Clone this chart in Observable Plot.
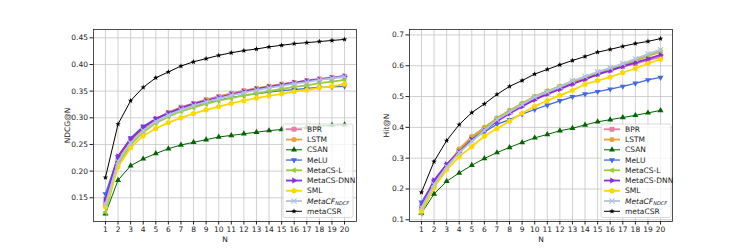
<!DOCTYPE html>
<html><head><meta charset="utf-8">
<script src="https://cdn.jsdelivr.net/npm/d3@7"></script>
<script src="https://cdn.jsdelivr.net/npm/@observablehq/plot@0.6"></script>
<style>
body{margin:0;background:#fff;width:747px;height:249px;overflow:hidden;position:relative;font-family:"DejaVu Sans",sans-serif}
#c1,#c2{position:absolute;top:0}
#c1{left:0}#c2{left:373px}
</style></head><body><div id="c1"></div><div id="c2"></div>
<script>
const N = [1,2,3,4,5,6,7,8,9,10,11,12,13,14,15,16,17,18,19,20];
const methods = ["BPR","LSTM","CSAN","MeLU","MetaCS-L","MetaCS-DNN","SML","MetaCF","metaCSR"];

// NDCG@N
const ndcg_BPR       = [0.140,0.225,0.258,0.281,0.298,0.310,0.320,0.327,0.334,0.340,0.346,0.351,0.355,0.359,0.363,0.366,0.370,0.373,0.376,0.378];
const ndcg_LSTM      = [0.135,0.220,0.255,0.279,0.297,0.309,0.319,0.326,0.333,0.339,0.345,0.350,0.355,0.359,0.363,0.366,0.369,0.372,0.375,0.378];
const ndcg_CSAN      = [0.120,0.183,0.210,0.223,0.233,0.242,0.249,0.254,0.259,0.264,0.267,0.270,0.273,0.276,0.278,0.280,0.282,0.284,0.286,0.287];
const ndcg_MeLU      = [0.157,0.227,0.262,0.284,0.298,0.308,0.316,0.322,0.328,0.333,0.338,0.342,0.345,0.348,0.351,0.353,0.355,0.357,0.358,0.359];
const ndcg_MetaCSL   = [0.123,0.212,0.249,0.273,0.290,0.302,0.312,0.319,0.326,0.332,0.337,0.342,0.346,0.350,0.354,0.358,0.361,0.365,0.368,0.371];
const ndcg_MetaCSDNN = [0.147,0.228,0.260,0.282,0.298,0.309,0.318,0.326,0.332,0.338,0.344,0.349,0.354,0.358,0.362,0.366,0.369,0.372,0.375,0.378];
const ndcg_SML       = [0.133,0.208,0.244,0.266,0.280,0.291,0.300,0.308,0.315,0.321,0.327,0.332,0.337,0.341,0.345,0.349,0.352,0.356,0.359,0.363];
const ndcg_MetaCF    = [0.138,0.218,0.253,0.276,0.293,0.305,0.315,0.323,0.330,0.336,0.342,0.347,0.352,0.356,0.360,0.364,0.367,0.371,0.374,0.377];
const ndcg_metaCSR   = [0.188,0.288,0.332,0.357,0.375,0.386,0.397,0.405,0.411,0.417,0.422,0.426,0.429,0.433,0.436,0.439,0.441,0.443,0.445,0.447];

// Hit@N
const hit_BPR       = [0.140,0.222,0.276,0.327,0.367,0.397,0.427,0.450,0.472,0.494,0.510,0.527,0.543,0.557,0.572,0.585,0.597,0.607,0.618,0.628];
const hit_LSTM      = [0.135,0.220,0.275,0.330,0.370,0.400,0.430,0.455,0.477,0.500,0.518,0.533,0.548,0.560,0.573,0.588,0.602,0.615,0.632,0.645];
const hit_CSAN      = [0.121,0.184,0.225,0.252,0.277,0.299,0.318,0.335,0.351,0.366,0.377,0.389,0.397,0.408,0.418,0.425,0.432,0.439,0.447,0.455];
const hit_MeLU      = [0.157,0.225,0.278,0.322,0.362,0.385,0.410,0.425,0.443,0.458,0.472,0.486,0.499,0.508,0.516,0.524,0.533,0.543,0.554,0.562];
const hit_MetaCSL   = [0.120,0.210,0.270,0.322,0.363,0.395,0.428,0.452,0.477,0.500,0.517,0.533,0.550,0.563,0.577,0.590,0.604,0.618,0.635,0.648];
const hit_MetaCSDNN = [0.145,0.228,0.280,0.320,0.360,0.390,0.420,0.445,0.468,0.490,0.508,0.524,0.541,0.556,0.572,0.584,0.598,0.610,0.622,0.635];
const hit_SML       = [0.130,0.205,0.262,0.305,0.338,0.371,0.396,0.420,0.446,0.468,0.487,0.504,0.520,0.540,0.552,0.563,0.578,0.591,0.607,0.621];
const hit_MetaCF    = [0.140,0.215,0.272,0.318,0.355,0.390,0.425,0.450,0.474,0.498,0.515,0.532,0.551,0.565,0.580,0.593,0.607,0.622,0.638,0.652];
const hit_metaCSR   = [0.189,0.289,0.357,0.409,0.448,0.476,0.507,0.533,0.552,0.573,0.588,0.603,0.617,0.630,0.644,0.653,0.663,0.672,0.679,0.688];

const ndcgTicks = [0.15,0.20,0.25,0.30,0.35,0.40,0.45];
const hitTicks  = [0.1,0.2,0.3,0.4,0.5,0.6,0.7];

const ndcgSeries = [ndcg_BPR,ndcg_LSTM,ndcg_CSAN,ndcg_MeLU,ndcg_MetaCSL,ndcg_MetaCSDNN,ndcg_SML,ndcg_MetaCF,ndcg_metaCSR];
const hitSeries  = [hit_BPR,hit_LSTM,hit_CSAN,hit_MeLU,hit_MetaCSL,hit_MetaCSDNN,hit_SML,hit_MetaCF,hit_metaCSR];

// custom marker shapes
function poly(pts){return {draw(ctx,size){const r=Math.sqrt(size/Math.PI);pts.forEach(([a,b],i)=>i?ctx.lineTo(a*r,b*r):ctx.moveTo(a*r,b*r));ctx.closePath();}};}
const symSquare = poly([[-0.8,-0.8],[0.8,-0.8],[0.8,0.8],[-0.8,0.8]]);
const symCircle = {draw(ctx,size){const r=Math.sqrt(size/Math.PI)*0.85;ctx.moveTo(r,0);ctx.arc(0,0,r,0,2*Math.PI);}};
const symUp    = poly([[0,-1.15],[-1,0.58],[1,0.58]]);
const symDown  = poly([[0,1.15],[-1,-0.58],[1,-0.58]]);
const symLeft  = poly([[-1.15,0],[0.58,-1],[0.58,1]]);
const symRight = poly([[1.15,0],[-0.58,-1],[-0.58,1]]);
const symPent  = poly(d3.range(5).map(k=>{const a=-Math.PI/2+k*2*Math.PI/5;return [Math.cos(a)*1.0,Math.sin(a)*1.0];}));
const symStar  = poly(d3.range(10).map(k=>{const a=-Math.PI/2+k*Math.PI/5;const rr=k%2?0.45:1.1;return [Math.cos(a)*rr,Math.sin(a)*rr];}));
const symX = {draw(ctx,size){const r=Math.sqrt(size/Math.PI)*0.8;ctx.moveTo(-r,-r);ctx.lineTo(r,r);ctx.moveTo(-r,r);ctx.lineTo(r,-r);}};

const style = {
  "BPR":        {color:"#e67fa2", sym:symSquare, lw:1.8, r:3},
  "LSTM":       {color:"#e8a23a", sym:symCircle, lw:1.8, r:3},
  "CSAN":       {color:"#006400", sym:symUp,     lw:1.0, r:3},
  "MeLU":       {color:"#4169e1", sym:symDown,   lw:1.3, r:3},
  "MetaCS-L":   {color:"#9acd32", sym:symLeft,   lw:1.8, r:3},
  "MetaCS-DNN": {color:"#8a2be2", sym:symRight,  lw:1.8, r:3},
  "SML":        {color:"#ffd700", sym:symPent,   lw:1.8, r:3},
  "MetaCF":     {color:"#b0c4de", sym:symX,      lw:1.8, r:3.3, stroke:true},
  "metaCSR":    {color:"#000000", sym:symStar,   lw:1.0, r:2.6}
};

function chart(series, yDomain, yTicks, yFmt, yLabel, width, mL, mR, labelOff, legendX) {
  const rows = [];
  methods.forEach((m,i)=>N.forEach((n,j)=>rows.push({m, N:n, v:series[i][j]})));
  const marks = [
    Plot.gridX(N, {stroke:"#c4c4c4", strokeOpacity:1, strokeWidth:0.8}),
    Plot.gridY(yTicks, {stroke:"#c4c4c4", strokeOpacity:1, strokeWidth:0.8}),
    Plot.axisX(N, {tickSize:3.5, tickPadding:2, label:"N", labelAnchor:"center", labelArrow:"none", labelOffset:20, fill:"#222"}),
    Plot.axisY(yTicks, {tickSize:3.5, tickPadding:2, tickFormat:d3.format(yFmt), label:yLabel, labelAnchor:"center", labelArrow:"none", labelOffset:labelOff, fill:"#222"})
  ];
  methods.forEach(m=>{
    const s = style[m];
    const d = rows.filter(r=>r.m===m);
    marks.push(Plot.line(d, {x:"N", y:"v", stroke:s.color, strokeWidth:s.lw}));
    if (s.stroke) marks.push(Plot.dot(d, {x:"N", y:"v", symbol:s.sym, r:s.r, stroke:s.color, fill:"none", strokeWidth:1.2}));
    else marks.push(Plot.dot(d, {x:"N", y:"v", symbol:s.sym, r:s.r, fill:s.color, stroke:"none"}));
  });
  marks.push(Plot.frame({stroke:"#222", strokeWidth:0.8}));
  const svg = Plot.plot({
    width, height:249, marginLeft:mL, marginRight:mR, marginTop:29, marginBottom:28,
    x:{type:"linear", domain:[0.05,20.95]},
    y:{domain:yDomain},
    style:{fontFamily:"DejaVu Sans", fontSize:"7.5px", background:"white", color:"#222"},
    marks
  });
  // legend
  const g = d3.select(svg).append("g").attr("font-family","DejaVu Sans").attr("font-size","7.5px").attr("text-anchor","start");
  const bx = legendX, by = 124, bw = 70, bh = 93.5;
  g.append("rect").attr("x",bx).attr("y",by).attr("width",bw).attr("height",bh).attr("rx",2)
    .attr("fill","white").attr("fill-opacity",0.8).attr("stroke","#d0d0d0").attr("stroke-width",0.8);
  methods.forEach((m,i)=>{
    const s = style[m];
    const y = 129.3 + i*10.25;
    g.append("line").attr("x1",bx+3).attr("x2",bx+19).attr("y1",y).attr("y2",y).attr("stroke",s.color).attr("stroke-width",s.lw);
    const p = d3.symbol().type(s.sym).size(s.r*s.r*Math.PI)();
    const path = g.append("path").attr("d",p).attr("transform",`translate(${bx+11},${y})`);
    if (s.stroke) path.attr("fill","none").attr("stroke",s.color).attr("stroke-width",1.2);
    else path.attr("fill",s.color);
    const t = g.append("text").attr("x",bx+24).attr("y",y).attr("dy","0.35em").attr("fill","#222").attr("text-anchor","start");
    if (m==="MetaCF") {
      t.append("tspan").attr("font-style","italic").text("MetaCF");
      t.append("tspan").attr("font-style","italic").attr("font-size","5px").attr("dy","1.5").text("NDCF");
    } else t.text(m);
  });
  return svg;
}

document.getElementById("c1").appendChild(
  chart(ndcgSeries, [0.1055,0.4656], ndcgTicks, ".2f", "NDCG@N", 373, 93, 17, 29, 283));
document.getElementById("c2").appendChild(
  chart(hitSeries, [0.0945,0.7176], hitTicks, ".1f", "Hit@N", 374, 36, 75, 26, 228));
</script></body></html>
